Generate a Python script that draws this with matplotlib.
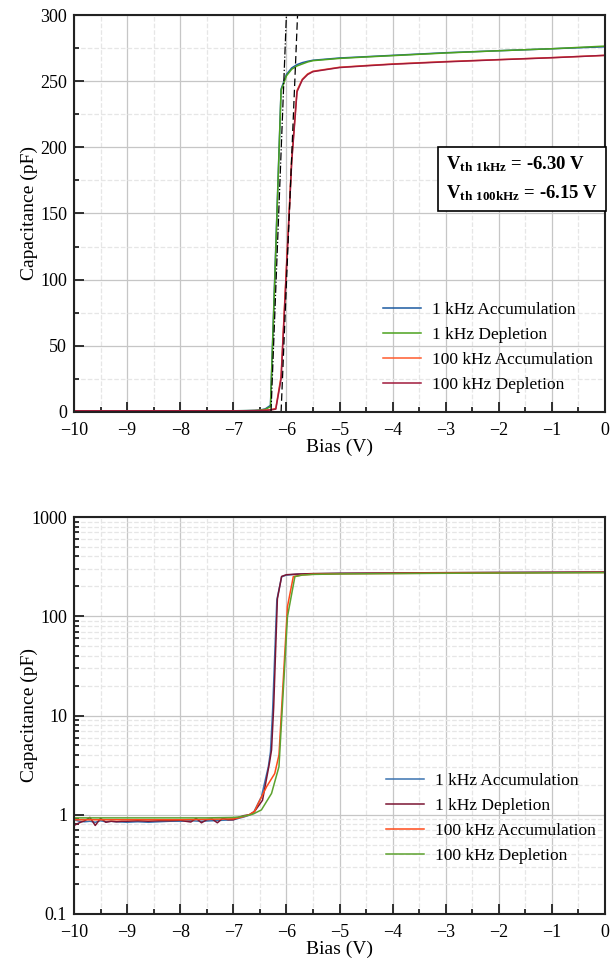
import matplotlib
matplotlib.use('Agg')
import matplotlib.pyplot as plt
import numpy as np
from matplotlib.ticker import MultipleLocator, LogLocator, FixedLocator, NullFormatter

plt.rcParams['font.family'] = ['Liberation Serif', 'DejaVu Serif']
plt.rcParams['mathtext.fontset'] = 'custom'
plt.rcParams['mathtext.rm'] = 'Liberation Serif'
plt.rcParams['mathtext.bf'] = 'Liberation Serif:bold'
plt.rcParams['axes.unicode_minus'] = True

# ---- 上图：线性坐标 ----
x_top = [-10, -9, -8, -7, -6.8, -6.6, -6.5, -6.4, -6.3, -6.2, -6.1, -6.0, -5.9, -5.8,
         -5.7, -5.6, -5.5, -5.0, -4.5, -4.0, -3.0, -2.0, -1.0, 0.0]
top_1k_acc = [0.9, 0.9, 0.9, 0.9, 1.0, 1.2, 1.5, 2.3, 5.0, 125, 244, 255, 260, 262.5,
              264, 265, 265.8, 267.5, 268.5, 269.5, 271.5, 273, 274.5, 276]
top_1k_dep = [0.9, 0.9, 0.9, 0.9, 1.0, 1.1, 1.3, 2.0, 4.0, 122, 243, 254, 259, 261.5,
              263, 264.5, 265.5, 267.2, 268.3, 269.3, 271.3, 273, 274.5, 276.5]
top_100k_acc = [0.9, 0.9, 0.9, 0.9, 0.9, 1.0, 1.1, 1.4, 1.8, 2.6, 27, 109, 191, 243,
                251.5, 255.5, 257.5, 260.5, 261.8, 263, 264.8, 266.3, 267.8, 269.5]
top_100k_dep = [0.9, 0.9, 0.9, 0.9, 0.9, 1.0, 1.0, 1.2, 1.5, 2.2, 25, 107, 189, 242,
                251, 255, 257.2, 260.3, 261.6, 262.8, 264.6, 266.2, 267.7, 269.5]

# 阈值切线（两个端点）
tan_1k_v = [-6.29, -6.00]
tan_100k_v = [-6.10, -5.79]
tan_c = [0, 300]
vth_1k = -6.30
vth_100k = -6.15

# ---- 下图：对数坐标 ----
x_b_1k_acc = [-10, -9.9, -9.8, -9.7, -9.6, -9.5, -9.4, -9.3, -9.2, -9.0, -8.8, -8.6, -8.4,
              -8.2, -8.0, -7.8, -7.6, -7.4, -7.2, -7.0, -6.9, -6.8, -6.7, -6.62, -6.47,
              -6.34, -6.30, -6.26, -6.18, -6.09, -6.0, -5.8, -5.5, -5.0, -4.0, -3.0,
              -2.0, -1.0, 0]
b_1k_acc = [0.89, 0.86, 0.85, 0.86, 0.84, 0.87, 0.85, 0.86, 0.85, 0.84, 0.85, 0.84, 0.85,
            0.86, 0.86, 0.87, 0.86, 0.87, 0.88, 0.89, 0.92, 0.95, 0.99, 1.05, 1.52,
            3.05, 4.3, 11, 146, 250, 260, 265, 268, 270, 272, 274,
            275.5, 276.5, 278]
x_b_1k_dep = [-10, -9.9, -9.8, -9.7, -9.6, -9.5, -9.4, -9.3, -9.2, -9.1, -9.0, -8.8, -8.6,
              -8.4, -8.2, -8.0, -7.9, -7.8, -7.7, -7.6, -7.5, -7.4, -7.3, -7.2, -7.1,
              -7.0, -6.9, -6.8, -6.7, -6.6, -6.45, -6.32, -6.28, -6.24, -6.17, -6.09,
              -6.0, -5.8, -5.5, -5.0, -4.0, -3.0, -2.0, -1.0, 0]
b_1k_dep = [0.78, 0.83, 0.87, 0.94, 0.78, 0.92, 0.84, 0.86, 0.85, 0.86, 0.86, 0.87, 0.86,
            0.87, 0.87, 0.88, 0.86, 0.845, 0.92, 0.83, 0.89, 0.905, 0.83, 0.92, 0.89,
            0.89, 0.94, 0.98, 1.0, 1.08, 1.4, 3.3, 4.5, 12, 150, 252,
            262, 266, 269, 271, 273, 275, 276.5, 277.5, 279]
x_b_100k_acc = [-10, -9, -8, -7.5, -7.0, -6.9, -6.8, -6.7, -6.6, -6.53, -6.37, -6.22,
                -6.14, -5.98, -5.87, -5.7, -5.5, -5.0, -4.0, -3.0, -2.0, -1.0, 0]
b_100k_acc = [0.89, 0.89, 0.89, 0.90, 0.91, 0.93, 0.96, 1.0, 1.08, 1.3, 1.93, 2.6,
              4.0, 125, 251, 261, 265, 268, 270, 272, 273.5, 275, 276]
x_b_100k_dep = [-10, -9, -8, -7.5, -7.0, -6.9, -6.8, -6.7, -6.62, -6.47, -6.28, -6.14,
                -5.98, -5.84, -5.7, -5.5, -5.0, -4.0, -3.0, -2.0, -1.0, 0]
b_100k_dep = [0.93, 0.93, 0.93, 0.93, 0.94, 0.95, 0.97, 0.99, 1.02, 1.12, 1.64, 3.05,
              99, 251, 260, 264, 267, 269, 271, 272.5, 274, 275]

labels = ['1 kHz Accumulation', '1 kHz Depletion', '100 kHz Accumulation', '100 kHz Depletion']
top_colors = ['#1b5aa0', '#4ca21e', '#ff5b2e', '#a01a3c']
bot_colors = ['#3b73b0', '#7b1533', '#ff4a1a', '#5da22f']


def style_axes(ax):
    for s in ax.spines.values():
        s.set_linewidth(1.5)
        s.set_color('#222222')
    ax.tick_params(which='both', direction='in', top=False, right=False,
                   labelsize=13, width=1.3, colors='#222222', labelcolor='black')
    ax.tick_params(which='major', length=7)
    ax.tick_params(axis='x', which='major', pad=7)
    ax.tick_params(axis='y', which='major', pad=5)
    ax.tick_params(which='minor', length=3.5)
    ax.grid(True, which='major', color='#c6c6c6', linewidth=0.9, linestyle='-')
    ax.grid(True, which='minor', color='#e6e6e6', linewidth=0.9, linestyle='--')
    ax.set_axisbelow(True)
    ax.set_xlim(-10, 0)
    ax.xaxis.set_major_locator(MultipleLocator(1))
    ax.xaxis.set_minor_locator(MultipleLocator(0.5))
    ax.set_xlabel('Bias (V)', fontsize=14, labelpad=0)
    ax.set_ylabel('Capacitance (pF)', fontsize=14)
    ax.yaxis.set_label_coords((38 - 74) / 531, 0.5)


fig = plt.figure(figsize=(6.12, 9.67), dpi=100)

# 上图
ax1 = fig.add_axes([74 / 612, 1 - 412 / 967, 531 / 612, 397 / 967])
for ys, c, lab in zip([top_1k_acc, top_1k_dep, top_100k_acc, top_100k_dep], top_colors, labels):
    ax1.plot(x_top, ys, color=c, linewidth=1.1, label=lab)
ax1.plot(tan_1k_v, tan_c, color='black', linestyle='-.', linewidth=0.9)
ax1.plot(tan_100k_v, tan_c, color='black', linestyle=(0, (6, 3)), linewidth=0.9)
ax1.set_ylim(0, 300)
ax1.yaxis.set_major_locator(MultipleLocator(50))
ax1.yaxis.set_minor_locator(MultipleLocator(25))
style_axes(ax1)
ax1.legend(loc='upper left', bbox_to_anchor=(383 / 612, 1 - 302 / 967),
           bbox_transform=fig.transFigure, frameon=False, fontsize=12.5,
           borderpad=0, borderaxespad=0, handlelength=2.2, handletextpad=0.6,
           labelspacing=0.5)
txt = (r'$\mathbf{V_{th\ 1kHz}}$' + ' = %.2f V\n' % vth_1k +
       r'$\mathbf{V_{th\ 100kHz}}$' + ' = %.2f V' % vth_100k)
ax1.text(0.843, 0.587, txt, transform=ax1.transAxes, ha='center', va='center',
         fontsize=13.5, fontweight='bold', multialignment='left', linespacing=1.6,
         bbox=dict(boxstyle='square,pad=0.42', facecolor='white', edgecolor='black',
                   linewidth=1.2))

# 下图
ax2 = fig.add_axes([74 / 612, 1 - 914 / 967, 531 / 612, 397 / 967])
for xs, ys, c, lab in zip([x_b_1k_acc, x_b_1k_dep, x_b_100k_acc, x_b_100k_dep],
                          [b_1k_acc, b_1k_dep, b_100k_acc, b_100k_dep], bot_colors, labels):
    ax2.plot(xs, ys, color=c, linewidth=1.1, label=lab)
ax2.set_yscale('log')
ax2.set_ylim(0.1, 1000)
ax2.yaxis.set_major_locator(FixedLocator([0.1, 1, 10, 100, 1000]))
ax2.set_yticklabels(['0.1', '1', '10', '100', '1000'])
ax2.yaxis.set_minor_locator(LogLocator(base=10, subs=np.arange(2, 10), numticks=20))
ax2.yaxis.set_minor_formatter(NullFormatter())
style_axes(ax2)
ax2.legend(loc='upper left', bbox_to_anchor=(386 / 612, 1 - 773 / 967),
           bbox_transform=fig.transFigure, frameon=False, fontsize=12.5,
           borderpad=0, borderaxespad=0, handlelength=2.2, handletextpad=0.6,
           labelspacing=0.5)

fig.savefig('out.png', dpi=100)
plt.close(fig)
